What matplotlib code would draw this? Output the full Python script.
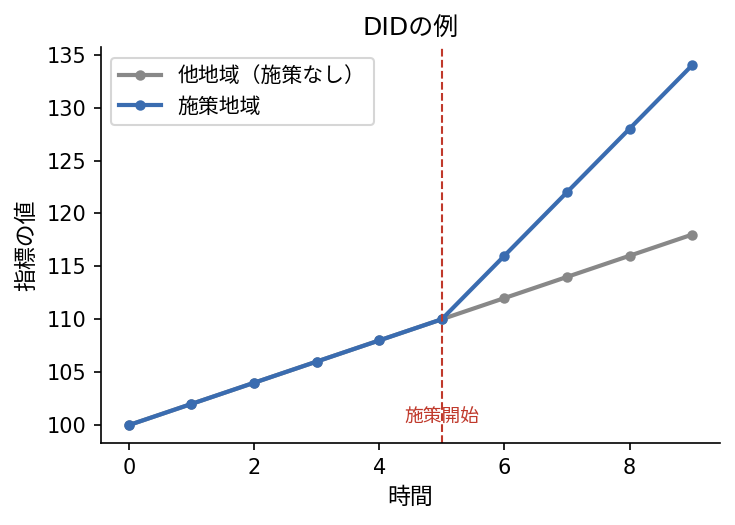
import matplotlib
matplotlib.use("Agg")
import matplotlib.pyplot as plt

plt.rcParams['font.family'] = ['DejaVu Sans', 'Noto Sans CJK JP']

time = [0, 1, 2, 3, 4, 5, 6, 7, 8, 9]
control = [100, 102, 104, 106, 108, 110, 112, 114, 116, 118]
treated = [100, 102, 104, 106, 108, 110, 116, 122, 128, 134]
labels = ['他地域（施策なし）', '施策地域']
policy_start = 5

fig, ax = plt.subplots(figsize=(4.9, 3.5), dpi=150)
ax.plot(time, control, color='#888888', marker='o', markersize=4, linewidth=2, label=labels[0])
ax.plot(time, treated, color='#3a6cb0', marker='o', markersize=4, linewidth=2, label=labels[1])
ax.axvline(policy_start, color='#c0392b', linestyle='--', linewidth=1)
ax.text(policy_start, 100.8, '施策開始', color='#c0392b', fontsize=9, ha='center', va='center')
ax.set_title('DIDの例', fontsize=12)
ax.set_xlabel('時間', fontsize=11)
ax.set_ylabel('指標の値', fontsize=11)
ax.spines['top'].set_visible(False)
ax.spines['right'].set_visible(False)
ax.tick_params(labelsize=10)
ax.legend(fontsize=10, loc='upper left')
fig.subplots_adjust(left=0.137, right=0.980, bottom=0.156, top=0.910)
fig.savefig('out.png', dpi=150)
